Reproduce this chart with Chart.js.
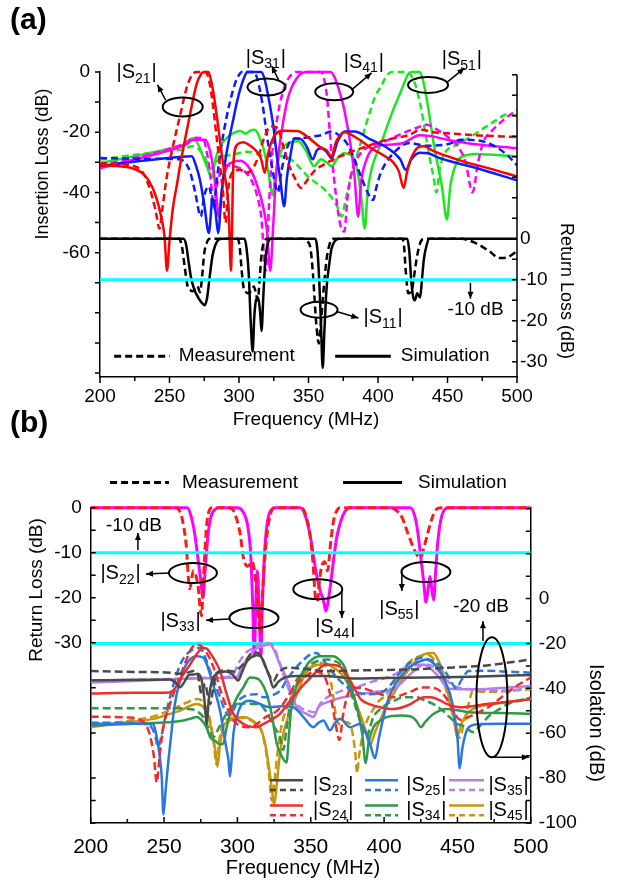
<!DOCTYPE html>
<html><head><meta charset="utf-8">
<script src="https://cdn.jsdelivr.net/npm/chart.js@4.4.0/dist/chart.umd.min.js"></script>
<style>
body{margin:0;background:#fff;}
#wrap{position:relative;width:619px;height:884px;overflow:hidden;}
#ca{position:absolute;left:0;top:0;}
#cb{position:absolute;left:0;top:400px;}
</style></head><body>
<div id="wrap">
<canvas id="ca" width="619" height="440"></canvas>
<canvas id="cb" width="619" height="484"></canvas>
</div>
<script>
// ---------- (a) insertion loss / S11 : [MHz, dB] ----------
const s21Sim = [[200,-31],[222,-31.8],[230,-33.5],[235,-36],[240,-41],[244,-48],[246.5,-55],[248.2,-66],[250,-56],[252.5,-45],[255.5,-37],[258,-30],[260.5,-24],[265,-13.5],[269.5,-4],[273,-0.5],[275,0],[278,0],[280,-3],[282,-8],[285,-18],[287.5,-27],[290,-35],[292.5,-45],[294.2,-66],[296,-30],[299,-24],[303,-23.3],[308,-24.5],[312,-26],[316,-29],[318.5,-33.5],[321,-27],[325,-21.5],[332,-19.5],[342,-19.6],[350,-21.8],[358,-24.8],[363,-26],[366.5,-28],[370,-23],[376,-20],[385,-22],[395,-25.3],[405,-28],[411,-30],[415,-33],[418.5,-38.5],[421,-33],[424,-28.5],[429,-25],[433,-24.7],[440,-26.3],[460,-29.5],[480,-32],[500,-34.7]];
const s21Meas = [[200,-30.3],[222,-31],[231,-33.5],[236,-39],[240,-46],[242.8,-52],[245,-45],[248,-35],[253,-23.6],[258,-13.7],[262.5,-5],[267,-0.5],[270,0],[276,0],[279,-4],[281,-10],[283.5,-20],[286,-30],[288.5,-40],[290.3,-50],[292.5,-38],[296,-33],[301,-32.5],[305,-33.5],[310,-32],[314,-28],[318,-22],[323,-18],[328,-18.7],[332,-25],[336,-31],[341,-36],[344.5,-38.5],[349,-36],[355,-32.5],[360,-31],[368,-29],[378,-27],[390,-25],[406,-22.5],[422,-21],[431,-19.2],[440,-20],[455,-20.5],[470,-21],[500,-21.6]];
const s31Sim = [[200,-31.2],[230,-29.5],[255,-28.3],[266,-28],[269,-31],[272,-36],[275,-44],[278.3,-53.5],[281,-42],[283,-46],[285,-53.5],[287.5,-40],[290,-30],[293,-22],[296,-15.5],[298.5,-10],[301,-5.5],[304,-1.5],[306,0],[316,0],[318.5,-2.5],[321,-8],[323,-13],[325,-19],[327,-27],[329.5,-35],[332.5,-44.6],[334.5,-35],[336.5,-29],[340,-22],[344.5,-22.3],[349,-25],[353,-29],[356,-26],[359,-25.3],[363,-26.5],[366.6,-28.6],[371,-23],[376,-19.8],[383,-19.8],[395,-22.5],[407,-25.3],[416,-29],[420,-32.5],[424,-29],[430,-26.8],[436,-27],[445,-28.7],[470,-31.8],[500,-36]];
const s31Meas = [[200,-28.6],[230,-28.8],[257,-29],[262,-30.5],[265,-33.5],[268.5,-40],[272.5,-48],[275,-41],[278.5,-38],[281.5,-45],[284,-36],[286.5,-27],[289,-20],[291.5,-14],[294,-9],[297,-4],[300,-1],[302,0],[311,0],[313,-2],[315.5,-7],[318,-14],[320,-21],[322.5,-28],[325.5,-36],[328,-40],[330.5,-33],[334,-26],[338,-22.5],[345,-22],[352,-21.5],[359,-21],[366,-19.8],[373,-21.4],[378,-24],[383,-29],[388,-35],[392.5,-40],[396.5,-42.5],[399,-38],[402,-33.5],[411,-27],[423,-23.6],[435,-24.5],[450,-24],[460,-22.5],[475,-23],[487,-25.5],[495,-28.5],[500,-31]];
const s41Sim = [[200,-32],[225,-29],[250,-26],[262,-24],[267,-22.5],[276,-22.5],[279,-26],[281.5,-32],[283.5,-40],[285.5,-48],[287.5,-40],[290,-33],[295,-30],[301,-29.5],[306,-31],[310,-34],[314,-39],[317.5,-45],[320,-52],[322.5,-66],[324.5,-52],[326.5,-35],[329,-25],[332,-16],[335,-9],[338,-5],[341,-2.5],[344,-0.8],[348,0],[366,0],[369,-2],[372,-6],[375,-11],[378,-18],[380.5,-25],[383,-34],[385.7,-48],[388,-36],[391,-30],[395,-26],[400,-24.6],[406,-24.2],[418,-23.6],[430,-21],[438,-21.3],[450,-22.5],[470,-24],[500,-25.3]];
const s41Meas = [[200,-31],[225,-28.5],[250,-25.5],[262,-23.5],[268,-21.8],[274,-22],[277,-27],[279.5,-35],[282,-45],[284,-38],[287,-33],[292,-31],[298,-31.5],[304,-33],[309,-36],[313,-41],[316,-48],[319.2,-66],[321.5,-45],[323.5,-29],[326,-20],[329,-11.5],[332,-6],[335,-2.6],[338,-0.8],[341,0],[359,0],[361.5,-3],[363.5,-9],[365,-18],[367,-29],[369.5,-40],[373,-51],[375.8,-53],[378,-42],[381,-33.5],[387.5,-27],[395,-24.5],[402,-23.6],[418,-20.3],[428,-18.5],[435,-17.5],[442,-19],[450,-21.5],[458,-25],[463,-30],[468,-40],[472,-30],[476,-23],[481,-20],[490,-16],[500,-12.6]];
const s51Sim = [[200,-30.2],[225,-28],[250,-25.5],[258,-24.7],[267,-22],[270,-23.5],[274,-28],[277,-31.5],[280.5,-35.2],[283,-29],[286.5,-24.7],[291,-22],[296,-20.3],[301,-19.6],[305,-20.5],[308,-19.5],[311.4,-19.2],[315,-22],[318.5,-27],[321,-33],[324.3,-41],[326,-35],[328.5,-29],[331,-25.5],[335.5,-23.6],[342.5,-23],[348,-26],[354,-31.3],[359,-29],[363,-30],[366.6,-31.3],[371,-28.5],[375.7,-27],[380,-27.5],[383,-29],[386,-35],[388,-42],[390.5,-52],[392.5,-40],[395,-33],[397.5,-29],[402,-24],[406.6,-18],[411,-12.5],[416,-7],[419,-3.5],[422,-0.5],[425,0],[430,0],[432.5,-3],[435.2,-9.3],[437.5,-16],[440,-23.6],[443,-31],[446,-38],[449.6,-49],[452,-38],[455,-32],[458,-29],[465,-27.5],[470,-27.2],[485,-27.6],[500,-28]];
const s51Meas = [[200,-29.1],[225,-27.5],[250,-26.2],[258,-25.8],[267,-24.7],[272,-26],[276,-29],[279.5,-32.3],[283,-30],[288.8,-28],[295,-27.5],[300,-27],[306,-26.5],[312,-27],[318,-28],[324,-27.5],[330,-28],[335,-28.3],[341,-30.5],[347,-33.5],[353,-36],[359,-38],[366,-41.3],[371,-45],[374,-48],[376.5,-43],[380.5,-34.7],[384,-29],[387.6,-23.6],[391,-18],[394.7,-12.6],[398,-8],[402,-4.9],[406.6,-1],[410,0],[421,0],[425,-2],[428,-6],[431,-12],[434,-20],[437,-28],[440,-35],[442,-40],[444.5,-32],[448,-27],[455,-24.5],[465,-22],[475,-19],[485,-16],[493,-14],[500,-14.5]];
const s11Sim = [[200,0],[260,0],[262,-1.5],[263.5,-5],[265.5,-9.5],[268,-12.5],[271,-14.5],[273,-15.5],[275.3,-16.2],[277,-14.5],[279,-9],[281,-4],[283,-1.5],[285,-0.3],[288,0],[304,0],[305.5,-2.5],[307,-8.5],[308.4,-20],[309.8,-27.5],[311,-19],[312.2,-15],[313.8,-14.3],[315.2,-18],[316.2,-22.5],[317.5,-14],[319,-5],[320.8,-1],[323,0],[355,0],[356.5,-3],[357.8,-10.8],[359,-21],[360.2,-31.5],[361.5,-22],[363,-12],[364.8,-6.5],[366.5,-2.5],[369,-0.5],[372,0],[421,0],[422.5,-3],[424,-10.5],[425.5,-14.5],[426.6,-15],[428.2,-13.3],[430.3,-14.3],[431.6,-10],[433,-5],[435,-1.5],[437,0],[500,0]];
const s11Meas = [[200,0],[257,0],[259,-2],[261,-7],[263,-11.5],[265,-12.5],[266.8,-12.8],[268.5,-12],[270,-11.5],[272,-13],[273.5,-9],[275,-3.5],[277,-0.8],[279,0],[299,0],[300.5,-2],[302,-8],[303.5,-12.3],[305,-13],[306.5,-13.3],[308.5,-12.8],[310.7,-11.6],[312,-13],[313.5,-15],[315,-9],[316.5,-3],[318.5,-0.5],[320,0],[346,0],[349,-0.5],[351.5,-2.5],[353.3,-9],[354.8,-17],[356.2,-23],[357.4,-25.5],[358.5,-22],[359.8,-17],[361.2,-11],[363,-5],[365,-1.5],[367.5,0],[417,0],[418.5,-1],[420,-8],[421.8,-13.3],[423.5,-13],[424.5,-12.4],[426,-9],[427.5,-5.5],[429,-2.7],[431,-0.5],[433,0],[460,0],[470,-1],[480,-3],[487.5,-4.7],[493,-4.5],[500,-3]];
const limitA = [[200,-10],[500,-10]];

// ---------- (b) return loss / isolation ----------
const rlSim = [[200,0],[266,0],[268.5,-2],[271,-6],[273,-11],[275,-16],[276.5,-20],[278,-14],[280,-6],[282,-2],[285,-0.3],[288,0],[300,0],[304,-1],[307,-4],[309,-10],[310.5,-22],[311.5,-33],[312.5,-22],[313.6,-14],[314.8,-22],[316,-33],[317,-22],[318.5,-10],[320.5,-3],[323,-0.5],[326,0],[343,0],[346,-1.5],[349.5,-6],[352,-11],[354,-15],[356.5,-18.5],[358.6,-20.5],[360.4,-23],[362,-20.5],[363.5,-17],[365.4,-12],[367.5,-7],[370,-3.5],[373,-1],[377,0],[418,0],[421,-2],[423,-5.5],[425,-11],[427,-16.5],[428.5,-21],[430,-18],[431.3,-15.3],[432.5,-18],[433.8,-20.5],[435,-15],[436.5,-8],[438.5,-3],[441,-0.5],[444,0],[500,0]];
const rlMeas = [[200,0],[258,0],[262,-2],[265,-8],[267.5,-18],[270,-14],[273,-17],[275.5,-24],[277,-15],[279,-4],[281,-0.5],[283,0],[294,0],[297,-0.5],[299.5,-2.5],[302,-6],[304,-11],[307,-13],[310,-12],[312,-15],[314,-22],[315.5,-28],[317,-20],[318.5,-12],[320.5,-5],[322.5,-1.5],[325,0],[343,0],[346.5,-1.5],[349.5,-6],[351.5,-12],[353.2,-20],[354.5,-20.8],[356,-16],[357.5,-13],[359.5,-12],[361.5,-14],[363.5,-8],[365.5,-3],[368,-0.5],[370,0],[404,0],[408,-0.5],[412,-2],[416,-5.5],[419.5,-8.5],[422.5,-10.5],[425,-11],[427,-9],[429.5,-6],[432.5,-2.5],[435.5,-0.4],[439,0],[500,0]];
const s23Sim = [[200,-36.4],[230,-36.2],[254,-36],[258,-37.5],[261,-39.5],[264,-37],[267,-34],[270,-33.8],[273,-33.5],[275.5,-36],[277.5,-45],[279,-56],[280.5,-45],[282.5,-37],[286,-33.5],[292,-32.5],[297,-34],[300.5,-36.5],[303,-33],[306,-28.5],[309,-26.4],[313,-25.2],[316,-25.8],[319,-30],[322,-35],[324.5,-39.6],[328,-37],[332,-35.2],[340,-34.5],[360,-34.5],[380,-35.6],[400,-35.4],[430,-35.2],[460,-34.8],[500,-34]];
const s23Meas = [[200,-32.3],[230,-32.7],[254,-33],[260,-33.5],[266,-33],[270,-32.3],[273,-34],[275.5,-42.6],[278,-38],[280,-44],[281.5,-47],[283.5,-40],[286,-33],[292,-32],[298,-32.5],[302,-30.5],[305,-28.5],[309,-24.8],[313,-24],[316,-25.5],[319,-30],[322,-34.5],[324.5,-36.7],[328,-33],[333.6,-30.8],[345,-31.3],[360,-32.3],[383,-32],[417,-31.6],[452,-30.5],[470,-29.8],[485,-28.5],[500,-27.1]];
const s24Sim = [[200,-42.3],[230,-42],[254,-41.8],[258,-39.5],[262,-35],[267.7,-29.4],[272,-25],[276.8,-22],[279.5,-22.5],[281.4,-24.2],[285,-28],[288.2,-32.3],[292.7,-42.6],[297.3,-51.4],[304,-55.8],[313,-57.3],[318,-55.8],[323,-54],[329,-51.4],[333,-48],[338,-44],[345,-38.5],[352,-33.8],[357,-30.5],[361,-29.4],[366,-29.6],[370,-30.3],[374,-33.5],[377,-36.7],[381,-41.5],[384,-44.8],[390,-47],[398,-48.5],[406,-49.2],[412,-48.5],[418,-47],[423,-45],[427,-44],[432,-44],[437,-45],[443,-47],[452,-48.4],[470,-47],[485,-46],[500,-44.8]];
const s24Meas = [[200,-52.6],[225,-53],[236,-55],[240,-60],[243,-70],[245,-82],[247,-70],[249.5,-57.3],[253,-49],[256.4,-42.6],[260,-36],[263.2,-30.8],[266,-26],[268.9,-22],[272.3,-20.5],[276,-21.5],[281,-26.5],[285,-33],[288,-40],[292.7,-48.4],[299.5,-55.8],[308.6,-57.3],[315,-55],[320,-52.5],[325,-51],[330,-48],[336,-42],[342,-37],[348,-34],[352,-32.5],[356,-33],[360,-35.5],[364,-45],[367,-56],[369.5,-63],[372,-52],[375,-43],[379,-39.6],[386,-40],[395,-42],[406,-44],[416,-42],[426.8,-39.6],[435,-40],[442,-44],[447,-50],[452,-54],[460,-52],[471,-48.4],[482,-43],[492,-38.2],[500,-35.2]];
const s25Sim = [[200,-55.8],[230,-55.8],[242.7,-56],[245,-61.7],[247,-70],[248.4,-79.3],[249.6,-96.2],[251,-86],[253,-72],[255,-60],[256.4,-51.4],[258.5,-43],[260.9,-36.7],[263.5,-31.5],[266.6,-27.9],[272.3,-25.7],[276.8,-26.4],[279,-29],[281.4,-33.8],[285.9,-44],[288.5,-51],[290.4,-58.7],[292.3,-66],[293.9,-72],[295,-79.3],[296.2,-70],[297.3,-60.2],[299.5,-53],[301.8,-48.4],[305,-46],[308.6,-45.5],[315.4,-47],[322.2,-48.4],[330,-48],[338.1,-48.4],[345,-52.8],[351.8,-57.3],[355,-55.5],[358.6,-54.3],[363.1,-58.7],[366.5,-55.5],[370,-53.6],[376.8,-57.3],[383.6,-55.8],[387,-59],[390.4,-64.6],[393.8,-71.2],[396.5,-62],[401.8,-47],[406,-40],[410.9,-35.2],[415,-32],[420,-29.4],[425,-27.8],[429,-27.1],[433,-28.5],[438.1,-32.3],[442,-37.5],[445,-42.6],[448,-52],[450,-62],[451.5,-75.6],[453.5,-66],[457.7,-57.3],[465,-56],[480,-55.8],[500,-55.8]];
const s25Meas = [[200,-55.3],[230,-55.5],[240,-56.5],[243.5,-60],[246,-66],[248,-62],[250.5,-54],[254,-44],[258,-35],[262,-28],[267.7,-23.5],[274.5,-22],[278,-26],[281.4,-32.3],[285,-38.5],[288.2,-44],[291,-49],[294,-52],[297,-50],[300,-46],[305,-43.5],[313,-42.6],[318,-44],[322,-43.5],[329,-41.1],[333,-37],[338.1,-32.3],[344,-28],[349.5,-25],[354,-24.2],[357,-26],[360.9,-29.4],[365,-33],[370,-36.7],[379,-41.1],[390.4,-42.6],[398,-42],[405,-38],[412,-32],[418,-28.5],[424.5,-26.4],[433.6,-27.9],[440,-31],[445,-36],[449,-40],[453,-36],[457.7,-32.3],[470,-32.2],[485,-32.6],[500,-33]];
const s34Sim = [[200,-56.5],[230,-55.8],[263.2,-54.3],[268,-53.5],[272.3,-52.8],[276,-54.5],[279,-57.5],[281.4,-61.7],[285,-63.5],[288,-65],[290.4,-64.6],[292.5,-58],[295,-51.4],[299,-45],[304,-39.6],[308.6,-35.2],[313,-35.5],[316,-37],[320,-42.6],[323.5,-52],[326.8,-64.6],[330,-70],[333.5,-73],[335,-62],[336.5,-50],[339,-42],[342.7,-35.2],[346,-31],[349.5,-27.9],[356.3,-25.7],[365.4,-25.7],[369,-27],[372.2,-29.4],[376,-36],[379,-42.6],[382,-50],[385,-60],[387.5,-73.4],[389.5,-64],[392.7,-57.3],[397,-54.5],[401.8,-52.8],[410.9,-52.1],[418,-52.5],[422,-54.5],[425,-57.3],[428,-55],[433.6,-51.4],[442.7,-49.2],[450,-49.8],[457.7,-50.6],[480,-51],[500,-51.4]];
const s34Meas = [[200,-48.9],[230,-48.9],[261,-48.9],[267,-49.2],[272,-50],[277,-53],[280.5,-58],[283.6,-61.7],[287,-58],[291,-53],[295,-49],[300,-47],[306,-46.8],[312,-47],[317,-48],[321,-52],[325,-57],[329,-61.7],[331.2,-67.5],[333.5,-58],[336,-46],[338.1,-39.6],[343,-34],[349.5,-29.4],[355,-27.8],[360.9,-27.1],[366,-27.8],[370,-29.4],[374,-35],[378,-43],[383.6,-54.3],[386,-58],[388.1,-61.7],[390.5,-57],[392.7,-52.8],[397,-49.5],[401.8,-47],[407,-45.5],[413.1,-44],[422.2,-44],[428,-45.5],[433.6,-47],[440,-50],[445,-53],[449.7,-55.8],[455,-57],[460.4,-59.5],[465,-57],[472,-52],[478,-49.5],[484.3,-47],[492,-45.5],[500,-44]];
const s35Sim = [[200,-37.4],[230,-36.7],[254,-36],[280,-35.5],[299.5,-35.2],[302,-32],[304,-29.4],[307,-26.5],[309.8,-24.2],[313,-22.3],[317.7,-21],[322.2,-20.5],[325,-23],[329,-29.4],[332.5,-34],[335.9,-39.6],[338,-44],[340.4,-48.4],[344,-50.3],[347.2,-51.4],[351.8,-52.8],[355.2,-48.4],[360.9,-46.2],[366,-45],[372.2,-44],[383.6,-42.6],[395,-41.5],[406.3,-40.4],[412,-37.5],[417.7,-33.8],[422,-31.5],[426.8,-29.4],[430,-30.3],[433.6,-32.3],[438,-35.5],[442.7,-39.6],[448,-40.3],[455,-40.4],[470,-40.3],[485,-39.6],[500,-39]];
const s35Meas = [[200,-36.8],[230,-36.3],[254,-35.8],[280,-35.3],[296,-34.5],[298.4,-32.3],[301,-28.5],[304,-25.7],[307,-23.5],[310.9,-22],[315.4,-20],[320,-19.8],[324.5,-21.3],[328,-27],[331.3,-33.8],[334.5,-39.5],[338.1,-45.5],[343,-48.5],[348,-50],[352.9,-50.6],[356.3,-47],[360,-44.5],[365.4,-42.6],[374,-40.5],[383.6,-38.9],[392,-37],[401.8,-35.2],[408,-33.5],[415.4,-30.8],[422,-29.7],[429,-29.4],[434,-30.5],[438,-33],[442,-36],[448,-39],[460,-40.5],[480,-41],[500,-40]];
const s45Sim = [[200,-57.3],[220,-55.5],[242.7,-53.6],[252,-51.8],[260.9,-49.9],[266,-48.3],[272.3,-47],[276.8,-48.4],[279,-51],[281.4,-55.8],[283.5,-62],[285,-68],[286.4,-74.9],[288,-66],[290.4,-57.3],[295,-54.3],[300,-53.2],[304,-52.8],[309,-53.8],[313.2,-55.8],[316,-58],[319,-65],[321.5,-75],[323.5,-85],[325,-92],[326.5,-85],[328.5,-72],[331.3,-60.2],[334.5,-53],[338.1,-47],[341.5,-41],[345,-35.2],[348,-32.2],[351.8,-30.1],[356,-29.5],[360.9,-29.4],[366,-31],[370,-33],[373.5,-36],[376.8,-39.6],[380,-45],[383.6,-51.4],[387,-58],[390.4,-65.3],[393.5,-60],[397.2,-54.3],[401.5,-48],[406.3,-42.6],[412,-36],[417.7,-30.8],[422,-27.5],[426.8,-25],[430,-24.4],[433.6,-24.2],[437,-27.5],[440.4,-33.8],[443.5,-42],[447.2,-51.4],[449.7,-61.7],[452.5,-56],[457,-51],[463,-48.4],[475,-47],[488,-45.8],[500,-44.8]];
const s45Meas = [[200,-56.5],[220,-55],[242.7,-52.5],[255,-49.5],[265,-46.5],[272.3,-44.8],[276.5,-46],[279.5,-50],[282,-56],[284,-65],[285.8,-74],[287.5,-64],[290,-56],[295,-53.5],[301,-53],[306,-53.5],[312,-55.5],[316,-58.5],[319,-66],[321.5,-78],[323.5,-90],[325.5,-80],[327.5,-68],[330,-57],[333,-50],[338.1,-42.6],[343,-35.5],[349.5,-30.8],[356.3,-28.6],[360,-30],[363.1,-35.2],[365,-42],[366.6,-49.9],[368,-55],[371,-56],[374,-55],[377,-56],[379,-62],[380.5,-70],[381.5,-77.8],[383,-70],[385,-62],[388,-55],[392,-50],[396,-46],[401.8,-42.6],[408,-36],[415.4,-29.4],[421,-26.5],[429,-25],[434,-27],[438,-32],[442,-40],[446,-50],[449,-58],[451.5,-62],[454.5,-55],[458,-46],[460.4,-41.1],[466,-41.5],[475,-41.5],[488,-41],[500,-40.4]];
const limitB1 = [[200,-10],[500,-10]];
const limitB2 = [[200,-20],[500,-20]];

// tick labels / tick marks
const xLab = [200,250,300,350,400,450,500];
const xMarks = [200,225,250,275,300,325,350,375,400,425,450,475,500];
const aLeftLab = [0,-20,-40,-60];
const aLeftMarks = [0,-10,-20,-30,-40,-50,-60,-70,-80,-90,-100];
const aRightLab = [0,-10,-20,-30];
const aRightMarks = [40,35,30,25,20,15,10,5,0,-5,-10,-15,-20,-25,-30];
const bLeftLab = [0,-10,-20,-30];
const bLeftMarks = [0,-5,-10,-15,-20,-25,-30,-40,-50,-60,-65,-70];
const bRightLab = [0,-20,-40,-60,-80,-100];
const bRightMarks = [40,30,20,10,0,-10,-20,-30,-40,-50,-60,-70,-80,-90,-100];

const FONT = "'Liberation Sans', Arial, sans-serif";
Chart.defaults.font.family = FONT;
Chart.defaults.color = '#000';

function pts(a) { return a.map(p => ({x: p[0], y: p[1]})); }
function ln(data, color, dash, axis, w) {
  return {data: pts(data), borderColor: color, borderWidth: w, borderDash: dash || [],
    yAxisID: axis, pointRadius: 0, fill: false, cubicInterpolationMode: 'monotone',
    clip: {left: 0, top: 4, right: 0, bottom: 0}};
}

function subText(ctx, x, y, sub, size) {
  ctx.textBaseline = 'middle'; ctx.textAlign = 'left';
  ctx.font = size + 'px ' + FONT;
  const w1 = ctx.measureText('|S').width;
  const w3 = ctx.measureText('|').width;
  ctx.font = Math.round(size * 0.72) + 'px ' + FONT;
  const w2 = ctx.measureText(sub).width;
  const x0 = x - (w1 + w2 + w3) / 2;
  ctx.font = size + 'px ' + FONT;
  ctx.fillText('|S', x0, y);
  ctx.fillText('|', x0 + w1 + w2 + 1, y);
  ctx.font = Math.round(size * 0.72) + 'px ' + FONT;
  ctx.fillText(sub, x0 + w1, y + size * 0.3);
}
function arrow(ctx, x1, y1, x2, y2) {
  ctx.beginPath(); ctx.moveTo(x1, y1); ctx.lineTo(x2, y2); ctx.stroke();
  const a = Math.atan2(y2 - y1, x2 - x1), L = 7, W = 3;
  ctx.beginPath();
  ctx.moveTo(x2, y2);
  ctx.lineTo(x2 - L * Math.cos(a) + W * Math.sin(a), y2 - L * Math.sin(a) - W * Math.cos(a));
  ctx.lineTo(x2 - L * Math.cos(a) - W * Math.sin(a), y2 - L * Math.sin(a) + W * Math.cos(a));
  ctx.closePath(); ctx.fill();
}
// dir: 1 = into the plot, -1 = outside
function marks(ctx, chart, ax, vals, len, dir, minorLen) {
  const s = chart.scales[ax], a = chart.chartArea;
  ctx.beginPath();
  vals.forEach(v => {
    const p = s.getPixelForValue(v);
    const l = (ax === 'x' && minorLen && v % 50) ? minorLen : len;
    if (ax === 'x') { ctx.moveTo(p, a.bottom); ctx.lineTo(p, a.bottom - dir * l); }
    else if (s.position === 'left') { ctx.moveTo(a.left, p); ctx.lineTo(a.left + dir * l, p); }
    else { ctx.moveTo(a.right, p); ctx.lineTo(a.right - dir * l, p); }
  });
  ctx.stroke();
}
function vtext(ctx, txt, x, y, rot, size) {
  ctx.save(); ctx.translate(x, y); ctx.rotate(rot);
  ctx.font = size + 'px ' + FONT; ctx.textAlign = 'center'; ctx.textBaseline = 'middle';
  ctx.fillText(txt, 0, 0); ctx.restore();
}

// annotation anchors (data units)
const annA = {
  labels: [[226,-0.3,'y','21'],[319,4.6,'y','31'],[389.5,3.3,'y','41'],[460,4,'y','51'],[403.3,-19.3,'y2','11']],
  ellipses: [[259.5,-11.6,'y',20,9.5],[319.8,-5,'y',19,8.5],[368.5,-6.6,'y',19,8.5],[436,-4.3,'y',20,8],[357.6,-17.3,'y2',18.5,8]],
  arrows: [[247.2,-9.3,241.4,-4.3,'y'],[328.5,-2.6,323.5,2,'y'],[380.8,-6,395.4,-0.3,'y'],[449.1,-3.6,462.2,1.3,'y'],[370.7,-17.8,385.9,-19.3,'y2'],[466.5,-10.7,466.5,-14.6,'y2']],
  texts: [['-10 dB',470.2,-17.3,'y2']],
  legend: {v: -94.4, ax: 'y', dash: [210.2,250.1], meas: 256.6, solid: [369.2,409.2], sim: 416.4}
};
const annB = {
  labels: [[220,-14.7,'y','22'],[260.9,-25.2,'y','33'],[366.4,-26.7,'y','44'],[410.1,-22.5,'y','55']],
  ellipses: [[269.7,-14.5,'y',24,10],[311.3,-24.5,'y',24.5,10],[354.8,-18.1,'y',24.5,10],[428.5,-14.3,'y',24.5,10],[473.5,-42.1,'y',15.5,60]],
  arrows: [[232.2,-9.4,232.2,-5.6,'y'],[253.4,-14.5,237.7,-14.7,'y'],[294.3,-24.7,278.6,-25,'y'],[371.2,-18.3,371.2,-24.5,'y'],[412.1,-14.3,412.1,-18.5,'y'],[467.4,-29.6,467.4,-25.2,'y'],[473.5,-55.4,498.7,-55.4,'y']],
  texts: [['-10 dB',229.5,-4.1,'y'],['-20 dB',466,-22,'y']],
  legend: {v: 5.6, ax: 'y', dash: [213.2,253.4], meas: 262.2, solid: [372,412.2], sim: 423.1}
};
// bottom legend of (b): [sub, colour, f line start, f line end, f text, row]
const isoKeys = [['23','#4a4a4a',322.2,344.7,365,0],['25','#2a78dc',387,409.5,428.5,0],['35','#b57ee8',444.3,468.1,484.5,0],
                 ['24','#ee2d2d',322.2,344.7,365,1],['34','#2e9a48',387,409.5,428.5,1],['45','#c8960c',444.3,468.1,484.5,1]];

function drawAnn(ctx, chart, ann, sz, lsz) {
  const X = v => chart.scales.x.getPixelForValue(v);
  const Y = (ax, v) => chart.scales[ax].getPixelForValue(v);
  ctx.fillStyle = '#000'; ctx.strokeStyle = '#000';
  ann.labels.forEach(l => subText(ctx, X(l[0]), Y(l[2], l[1]), l[3], sz));
  ctx.lineWidth = 2;
  ann.ellipses.forEach(e => { ctx.beginPath(); ctx.ellipse(X(e[0]), Y(e[2], e[1]), e[3], e[4], 0, 0, Math.PI * 2); ctx.stroke(); });
  ctx.lineWidth = 1.5;
  ann.arrows.forEach(a => arrow(ctx, X(a[0]), Y(a[4], a[1]), X(a[2]), Y(a[4], a[3])));
  ctx.font = lsz + 'px ' + FONT; ctx.textAlign = 'center'; ctx.textBaseline = 'middle';
  ann.texts.forEach(t => ctx.fillText(t[0], X(t[1]), Y(t[3], t[2])));
  const g = ann.legend, gy = Y(g.ax, g.v);
  ctx.lineWidth = 3;
  ctx.setLineDash([7, 4]); ctx.beginPath(); ctx.moveTo(X(g.dash[0]), gy); ctx.lineTo(X(g.dash[1]), gy); ctx.stroke();
  ctx.setLineDash([]); ctx.beginPath(); ctx.moveTo(X(g.solid[0]), gy); ctx.lineTo(X(g.solid[1]), gy); ctx.stroke();
  ctx.font = lsz + 'px ' + FONT; ctx.textAlign = 'left';
  ctx.fillText('Measurement', X(g.meas), gy); ctx.fillText('Simulation', X(g.sim), gy);
}

const decoA = {
  id: 'decoA',
  afterDraw(chart) {
    const ctx = chart.ctx, a = chart.chartArea; ctx.save();
    ctx.strokeStyle = '#000'; ctx.lineWidth = 1.5;
    // right axis line only spans its own range
    ctx.beginPath(); ctx.moveTo(a.right, chart.scales.y2.getPixelForValue(40)); ctx.lineTo(a.right, a.bottom); ctx.stroke();
    marks(ctx, chart, 'x', xMarks, 6, -1, 4); marks(ctx, chart, 'y', aLeftMarks, 5, -1); marks(ctx, chart, 'y2', aRightMarks, 5, 1);
    drawAnn(ctx, chart, annA, 20, 19);
    ctx.fillStyle = '#000';
    vtext(ctx, 'Insertion Loss (dB)', 43, 164, -Math.PI / 2, 18);
    vtext(ctx, 'Return Loss (dB)', 566, 291, Math.PI / 2, 18);
    vtext(ctx, 'Frequency (MHz)', 306, 420, 0, 19);
    ctx.font = 'bold 30px ' + FONT; ctx.textAlign = 'left'; ctx.textBaseline = 'middle';
    ctx.fillText('(a)', 10, 21);
    ctx.restore();
  }
};
const decoB = {
  id: 'decoB',
  afterDraw(chart) {
    const ctx = chart.ctx; ctx.save();
    ctx.strokeStyle = '#000'; ctx.lineWidth = 1.5;
    marks(ctx, chart, 'x', xMarks, 6, 1, 4); marks(ctx, chart, 'y', bLeftMarks, 5, 1); marks(ctx, chart, 'y2', bRightMarks, 5, 1);
    drawAnn(ctx, chart, annB, 20, 19);
    const X = v => chart.scales.x.getPixelForValue(v);
    const Y = v => chart.scales.y.getPixelForValue(v);
    isoKeys.forEach(k => {
      const y0 = Y(k[5] ? -66.1 : -60.5), y1 = Y(k[5] ? -68.3 : -62.7), yt = (y0 + y1) / 2;
      ctx.strokeStyle = k[1]; ctx.lineWidth = 2.5;
      ctx.setLineDash([]); ctx.beginPath(); ctx.moveTo(X(k[2]), y0); ctx.lineTo(X(k[3]), y0); ctx.stroke();
      ctx.setLineDash([6, 4]); ctx.beginPath(); ctx.moveTo(X(k[2]), y1); ctx.lineTo(X(k[3]), y1); ctx.stroke();
      ctx.setLineDash([]); ctx.fillStyle = '#000';
      subText(ctx, X(k[4]), yt, k[0], 20);
    });
    ctx.fillStyle = '#000';
    vtext(ctx, 'Return Loss (dB)', 37, 190, -Math.PI / 2, 19);
    vtext(ctx, 'Isolation (dB)', 596, 323, Math.PI / 2, 20);
    vtext(ctx, 'Frequency (MHz)', 303, 468, 0, 20);
    ctx.font = 'bold 30px ' + FONT; ctx.textAlign = 'left'; ctx.textBaseline = 'middle';
    ctx.fillText('(b)', 10, 24);
    ctx.restore();
  }
};

function axis(pos, min, max, labs, w, pad, size, border) {
  return {type: 'linear', position: pos, min: min, max: max,
    afterFit: s => { s.width = w; },
    afterBuildTicks: s => { s.ticks = labs.map(v => ({value: v})); },
    ticks: {font: {size: size}, color: '#000', padding: pad},
    grid: {drawOnChartArea: false, drawTicks: false}, border: {display: border, color: '#000', width: 1.5}};
}
function xaxis(h, pad, size) {
  return {type: 'linear', min: 200, max: 500,
    afterFit: s => { s.height = h; },
    afterBuildTicks: s => { s.ticks = xLab.map(v => ({value: v})); },
    ticks: {font: {size: size}, color: '#000', padding: pad, maxRotation: 0, autoSkip: false},
    grid: {drawOnChartArea: false, drawTicks: false}, border: {color: '#000', width: 1.5}};
}

const RED = '#ff0000', BLUE = '#0a1cff', MAG = '#ff00ff', GRN = '#1ee61e';
const DA = [7, 4];
new Chart(document.getElementById('ca'), {
  type: 'line',
  data: {datasets: [
    ln(limitA, '#00ffff', null, 'y2', 3),
    ln(s11Meas, '#000', DA, 'y2', 2.5), ln(s11Sim, '#000', null, 'y2', 2.5),
    ln(s21Meas, RED, DA, 'y', 2.5), ln(s21Sim, RED, null, 'y', 2.5),
    ln(s31Meas, BLUE, DA, 'y', 2.5), ln(s31Sim, BLUE, null, 'y', 2.5),
    ln(s41Meas, MAG, DA, 'y', 2.5), ln(s41Sim, MAG, null, 'y', 2.5),
    ln(s51Meas, GRN, DA, 'y', 2.5), ln(s51Sim, GRN, null, 'y', 2.5)
  ]},
  options: {
    responsive: false, animation: false, events: [],
    layout: {padding: {top: 72, left: 0, right: 0, bottom: 0}},
    plugins: {legend: {display: false}, tooltip: {enabled: false}},
    scales: {
      x: xaxis(63, 8, 19),
      y: axis('left', -101.3, 0, aLeftLab, 100, 10, 19, true),
      y2: axis('right', -33.7, 40.7, aRightLab, 102, 3, 19, false)
    }
  },
  plugins: [decoA]
});

const DB = [8, 4];
new Chart(document.getElementById('cb'), {
  type: 'line',
  data: {datasets: [
    ln(s23Meas, '#4a4a4a', DB, 'y2', 2.5), ln(s23Sim, '#4a4a4a', null, 'y2', 2.5),
    ln(s24Meas, '#ee2d2d', DB, 'y2', 2.5), ln(s24Sim, '#ee2d2d', null, 'y2', 2.5),
    ln(s25Meas, '#2a78dc', DB, 'y2', 2.5), ln(s25Sim, '#2a78dc', null, 'y2', 2.5),
    ln(s34Meas, '#2e9a48', DB, 'y2', 2.5), ln(s34Sim, '#2e9a48', null, 'y2', 2.5),
    ln(s35Meas, '#b57ee8', DB, 'y2', 2.5), ln(s35Sim, '#b57ee8', null, 'y2', 2.5),
    ln(s45Meas, '#c8960c', DB, 'y2', 2.5), ln(s45Sim, '#c8960c', null, 'y2', 2.5),
    ln(limitB1, '#00ffff', null, 'y', 3), ln(limitB2, '#00ffff', null, 'y2', 3),
    ln(rlMeas, '#ff1a1a', DB, 'y', 3), ln(rlSim, '#ff00ff', null, 'y', 3)
  ]},
  options: {
    responsive: false, animation: false, events: [],
    layout: {padding: {top: 107.7, left: 0, right: 0, bottom: 0}},
    plugins: {legend: {display: false}, tooltip: {enabled: false}},
    scales: {
      x: xaxis(61, 12, 21),
      y: axis('left', -70, 0, bLeftLab, 90.7, 9, 19, true),
      y2: axis('right', -100, 40.5, bRightLab, 88.2, 8, 19, true)
    }
  },
  plugins: [decoB]
});
</script>
</body></html>
